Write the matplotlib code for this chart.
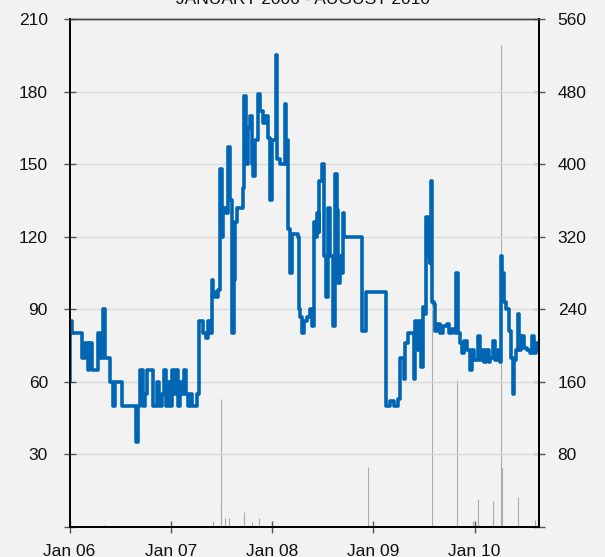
"""
Daily price (left axis, step line) with traded volume spikes (right axis).
January 2006 - August 2010. Grey paper background, Arial-like type.
"""

import matplotlib
matplotlib.use('Agg')
import matplotlib.pyplot as plt
import matplotlib.dates as mdates
import numpy as np
import pandas as pd

PAPER = '#F2F2F2'
BLUE = '#0066B3'
GRID = '#DADADA'
TICK = '#555555'
VOL_C = '#ABABAB'

plt.rcParams['font.family'] = ['Liberation Sans', 'DejaVu Sans']

# ---------------------------------------------------------------- data
# price change points: decimal years since Jan 2006, value (steps-post)
price_t = [0.000, 0.005, 0.025, 0.121, 0.153, 0.183, 0.193, 0.219, 0.285,
           0.301, 0.334, 0.351, 0.400, 0.433, 0.450, 0.516, 0.657, 0.680,
           0.696, 0.729, 0.746, 0.769, 0.828, 0.862, 0.887, 0.914, 0.934,
           0.954, 0.973, 0.993, 1.013, 1.033, 1.052, 1.072, 1.092, 1.112,
           1.131, 1.151, 1.171, 1.191, 1.210, 1.257, 1.283, 1.319, 1.349,
           1.369, 1.388, 1.405, 1.418, 1.438, 1.467, 1.487, 1.504, 1.517,
           1.546, 1.569, 1.586, 1.609, 1.621, 1.635, 1.658, 1.711, 1.727,
           1.744, 1.764, 1.783, 1.798, 1.816, 1.834, 1.861, 1.883, 1.915,
           1.942, 1.962, 1.983, 1.998, 2.040, 2.053, 2.080, 2.123, 2.139,
           2.152, 2.162, 2.179, 2.196, 2.251, 2.261, 2.278, 2.294, 2.317,
           2.344, 2.376, 2.394, 2.410, 2.426, 2.446, 2.459, 2.468, 2.492,
           2.508, 2.535, 2.551, 2.574, 2.601, 2.617, 2.640, 2.650, 2.666,
           2.690, 2.700, 2.712, 2.890, 2.930, 3.127, 3.167, 3.207, 3.246,
           3.266, 3.298, 3.315, 3.338, 3.397, 3.414, 3.431, 3.447, 3.470,
           3.486, 3.503, 3.523, 3.538, 3.555, 3.562, 3.572, 3.582, 3.595,
           3.612, 3.632, 3.661, 3.691, 3.727, 3.750, 3.780, 3.809, 3.819,
           3.832, 3.852, 3.876, 3.892, 3.925, 3.951, 3.974, 3.997, 4.030,
           4.056, 4.073, 4.096, 4.116, 4.138, 4.155, 4.182, 4.205, 4.227,
           4.247, 4.261, 4.271, 4.287, 4.313, 4.336, 4.360, 4.376, 4.392,
           4.412, 4.425, 4.442, 4.462, 4.484, 4.518, 4.543, 4.567, 4.583,
           4.610, 4.626, 4.636]
price_v = [60, 85, 80, 70, 76, 65, 76, 65, 80,
           70, 90, 70, 60, 50, 60, 50, 35, 50,
           65, 50, 55, 65, 50, 60, 50, 55, 65,
           50, 60, 50, 65, 55, 65, 50, 60, 55,
           65, 55, 50, 55, 50, 55, 85, 80, 78,
           85, 80, 102, 97, 95, 98, 148, 120, 132,
           130, 157, 135, 80, 102, 126, 132, 140, 178,
           150, 165, 170, 150, 145, 160, 179, 172, 167,
           170, 161, 135, 160, 195, 152, 150, 175, 150,
           160, 123, 105, 121, 120, 90, 87, 80, 85,
           87, 90, 83, 126, 120, 130, 122, 143, 150,
           112, 95, 132, 112, 83, 146, 131, 101, 112,
           105, 130, 120, 81, 97, 50, 52, 50, 53,
           70, 61, 76, 80, 61, 85, 73, 85, 66,
           91, 88, 128, 112, 109, 125, 143, 93, 92,
           81, 84, 80, 83, 84, 80, 82, 80, 105,
           80, 76, 72, 77, 73, 65, 73, 69, 79,
           69, 73, 68, 73, 68, 70, 77, 69, 73,
           68, 112, 105, 93, 90, 81, 70, 55, 69,
           73, 88, 73, 79, 74, 73, 72, 79, 72,
           76, 73, 74]

# volume spikes: decimal years since Jan 2006, value (right axis)
vol_t = [0.340, 1.418, 1.494, 1.497, 1.534, 1.572, 1.724, 1.803, 1.868,
         2.945, 3.578, 3.826, 3.987, 4.034, 4.182, 4.264, 4.270, 4.432, 4.600]
vol_v = [2, 7, 141, 22, 10, 10, 16, 5, 10,
         66, 377, 162, 7, 31, 29, 531, 65, 33, 8]

year_ticks = [2006, 2007, 2008, 2009, 2010]


def to_date(years):
    return pd.Timestamp('2006-01-01') + pd.to_timedelta(
        np.asarray(years) * 365.25, unit='D')


# ---------------------------------------------------------------- figure
fig = plt.figure(figsize=(6.05, 5.57), dpi=100)
fig.patch.set_facecolor(PAPER)
ax = fig.add_axes([0.1149, 0.0539, 0.776, 0.912])
ax2 = ax.twinx()
ax.set_zorder(ax2.get_zorder() + 1)
ax.patch.set_visible(False)
ax2.set_facecolor(PAPER)

ax2.vlines(to_date(vol_t), 0, vol_v, color=VOL_C, linewidth=0.8)
ax.plot(to_date(price_t), price_v, drawstyle='steps-post', color=BLUE,
        linewidth=2.6, solid_joinstyle='round', solid_capstyle='round')

ax.set_xlim(pd.Timestamp('2006-01-01'), pd.Timestamp('2010-08-21'))
ax.set_ylim(0, 210)
ax2.set_ylim(0, 560)
ax.set_yticks(range(0, 211, 30))
ax2.set_yticks(range(0, 561, 80))
blank0 = plt.FuncFormatter(lambda v, p: '' if v == 0 else f'{v:g}')
ax.yaxis.set_major_formatter(blank0)
ax2.yaxis.set_major_formatter(blank0)
ax.set_xticks([pd.Timestamp(f'{y}-01-01') for y in year_ticks])
ax.xaxis.set_major_formatter(mdates.DateFormatter('Jan %y'))

ax.grid(axis='y', color=GRID, linewidth=1)
ax.set_axisbelow(True)

for a in (ax, ax2):
    a.tick_params(direction='inout', length=9, width=1, color=TICK,
                  labelsize=12.5, labelcolor='#111111')
    for side in ('left', 'right', 'bottom'):
        a.spines[side].set_color('#000000')
        a.spines[side].set_linewidth(1.3)
    a.spines['top'].set_color('#444444')
    a.spines['top'].set_linewidth(1.0)
ax.tick_params(axis='y', pad=11)
ax2.tick_params(axis='y', pad=9)
ax.tick_params(axis='x', pad=8)

fig.text(0.5, 0.993, 'JANUARY 2006 - AUGUST 2010', ha='center',
         va='baseline', fontsize=12.5, color='#111111')

fig.savefig('out.png', dpi=100, facecolor=PAPER)
